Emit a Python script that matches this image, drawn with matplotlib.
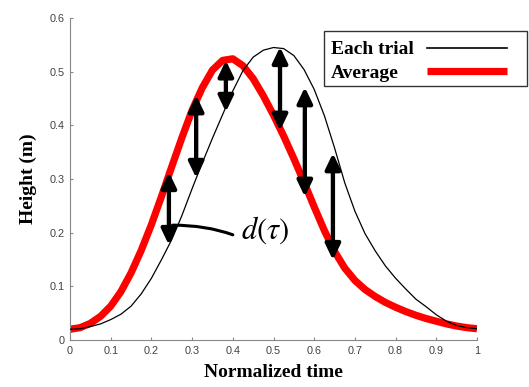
import matplotlib
matplotlib.use("Agg")
import matplotlib.pyplot as plt
from matplotlib.patches import Rectangle

# ---- data ----
t = [0.000, 0.025, 0.050, 0.075, 0.100, 0.125, 0.150, 0.175, 0.200, 0.225,
     0.250, 0.275, 0.300, 0.325, 0.350, 0.375, 0.400, 0.425, 0.450, 0.475,
     0.500, 0.525, 0.550, 0.575, 0.600, 0.625, 0.650, 0.675, 0.700, 0.725,
     0.750, 0.775, 0.800, 0.825, 0.850, 0.875, 0.900, 0.925, 0.950, 0.975, 1.000]

each_trial = [0.020, 0.021, 0.025, 0.030, 0.038, 0.048, 0.063, 0.086, 0.115, 0.150,
              0.187, 0.232, 0.282, 0.330, 0.376, 0.420, 0.464, 0.502, 0.527, 0.540,
              0.545, 0.543, 0.530, 0.504, 0.467, 0.418, 0.358, 0.293, 0.240, 0.198,
              0.166, 0.138, 0.115, 0.095, 0.076, 0.062, 0.047, 0.035, 0.027, 0.023, 0.021]

average = [0.020, 0.023, 0.031, 0.044, 0.063, 0.090, 0.125, 0.167, 0.215, 0.268,
           0.323, 0.377, 0.428, 0.470, 0.503, 0.521, 0.524, 0.511, 0.487, 0.455,
           0.419, 0.380, 0.338, 0.294, 0.248, 0.204, 0.165, 0.134, 0.111, 0.094,
           0.081, 0.070, 0.061, 0.053, 0.046, 0.040, 0.035, 0.030, 0.026, 0.023, 0.021]

arrow_x = [0.243, 0.310, 0.383, 0.516, 0.577, 0.646]
arrow_top = [0.313, 0.456, 0.521, 0.546, 0.471, 0.348]
arrow_bottom = [0.177, 0.302, 0.425, 0.390, 0.267, 0.149]

xticks = [0, 0.1, 0.2, 0.3, 0.4, 0.5, 0.6, 0.7, 0.8, 0.9, 1]
xtick_labels = ["0", "0.1", "0.2", "0.3", "0.4", "0.5", "0.6", "0.7", "0.8", "0.9", "1"]
yticks = [0, 0.1, 0.2, 0.3, 0.4, 0.5, 0.6]
ytick_labels = ["0", "0.1", "0.2", "0.3", "0.4", "0.5", "0.6"]

# ---- figure ----
W, H = 529, 387
fig = plt.figure(figsize=(W / 100, H / 100), dpi=100)
ax = fig.add_axes([70 / W, 47 / H, 407 / W, 322 / H])

l1, = ax.plot(t, each_trial, color="black", lw=0.9, label="Each trial", zorder=3)
l2, = ax.plot(t, average, color="#ff0000", lw=5.2, label="Average", zorder=2,
              solid_capstyle="butt", solid_joinstyle="round")

for x, top, bot in zip(arrow_x, arrow_top, arrow_bottom):
    ax.annotate("", xy=(x, bot), xytext=(x, top),
                arrowprops=dict(arrowstyle="<|-|>,head_length=0.75,head_width=0.36",
                                color="black", lw=3.1, mutation_scale=12.5,
                                shrinkA=0, shrinkB=0),
                zorder=5)

# d(tau) annotation
ax.annotate("", xy=(0.252, 0.214), xytext=(0.400, 0.196),
            arrowprops=dict(arrowstyle="-", color="black", lw=2.2,
                            connectionstyle="angle3,angleA=-20,angleB=0",
                            shrinkA=0, shrinkB=0), zorder=4)
ax.text(0.479, 0.205, r"$d(\tau)$", fontsize=22, ha="center", va="center",
        math_fontfamily="stix")

ax.set_xlim(0, 1)
ax.set_ylim(0, 0.6)
ax.set_xticks(xticks)
ax.set_xticklabels(xtick_labels)
ax.set_yticks(yticks)
ax.set_yticklabels(ytick_labels)
for s in ["top", "right"]:
    ax.spines[s].set_visible(False)
for s in ["left", "bottom"]:
    ax.spines[s].set_color("#888888")
    ax.spines[s].set_linewidth(0.8)
ax.tick_params(direction="in", length=2.5, width=0.8, color="#888888",
               labelcolor="#404040", labelsize=7.8, pad=4)
for lab in ax.get_xticklabels() + ax.get_yticklabels():
    lab.set_family("Liberation Sans")

ax.set_xlabel("Normalized time", fontsize=14, fontweight="bold",
              family="Liberation Serif", labelpad=6)
ax.set_ylabel("Height (m)", fontsize=14, fontweight="bold",
              family="Liberation Serif", labelpad=9)

# legend frame drawn explicitly (it is wider than the legend content)
fig.add_artist(Rectangle((324 / W, 1 - 86 / H), 203 / W, 55 / H,
                         transform=fig.transFigure, fill=False,
                         ec="#333333", lw=1.0, zorder=10))

leg = fig.legend(handles=[l1, l2], loc="upper left",
                 bbox_to_anchor=(324 / W, 1 - 34 / H), borderaxespad=0,
                 markerfirst=False, handlelength=4.1, handletextpad=0.7,
                 borderpad=0.35, labelspacing=0.3, frameon=False,
                 prop=dict(family="Liberation Serif", weight="bold", size=14))
leg.get_lines()[0].set_linewidth(1.2)
leg.get_lines()[1].set_linewidth(5.2)

# left-align legend labels while keeping the handles aligned
fig.canvas.draw()
widths = [tx.get_window_extent().width for tx in leg.get_texts()]
col = leg._legend_handle_box.get_children()[0]
col.align = "left"
maxw = max(widths)
for row, w in zip(col.get_children(), widths):
    row.sep += (maxw - w) * 72 / fig.dpi

fig.savefig("out.png", dpi=100)
